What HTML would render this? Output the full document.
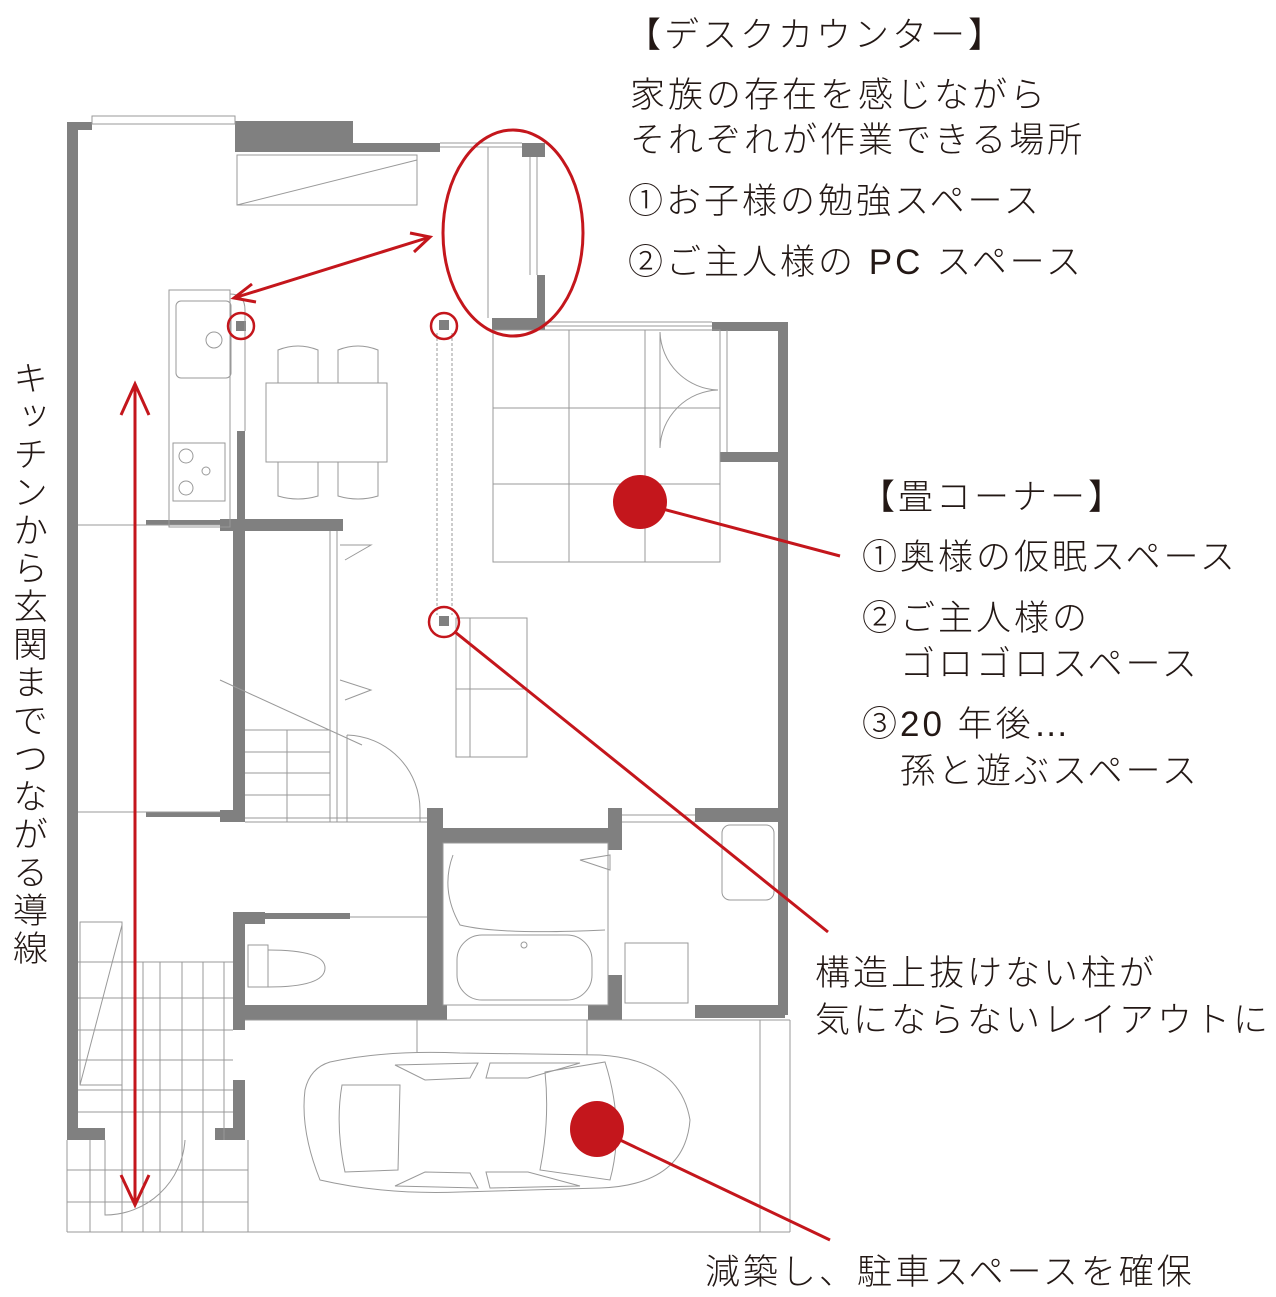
<!DOCTYPE html>
<html><head><meta charset="utf-8"><style>
html,body{margin:0;padding:0;background:#fff}
body{width:1276px;height:1297px;position:relative;overflow:hidden;font-family:"Liberation Sans","Noto Sans CJK JP",sans-serif;color:#231815}
.t{position:absolute;font-size:35px;line-height:1;white-space:nowrap;letter-spacing:3px;font-weight:300}
svg{position:absolute;left:0;top:0}
</style></head><body>
<svg width="1276" height="1297" viewBox="0 0 1276 1297">
<g fill="#808080">
<rect x="67" y="122" width="11" height="1018"/>
<rect x="67" y="122" width="25" height="8"/>
<rect x="235" y="121" width="118" height="31"/>
<rect x="353" y="143" width="87" height="9"/>
<rect x="522" y="143" width="23" height="14"/>
<rect x="537" y="275" width="8" height="55"/>
<rect x="492" y="318" width="53" height="12"/>
<rect x="712" y="322" width="68" height="9"/>
<rect x="778" y="322" width="10" height="693"/>
<rect x="720" y="452" width="60" height="10"/>
<rect x="237" y="431" width="8" height="90"/>
<rect x="220" y="519" width="123" height="12"/>
<rect x="233" y="519" width="12" height="303"/>
<rect x="220" y="810" width="25" height="12"/>
<rect x="427" y="808" width="16" height="212"/>
<rect x="427" y="828" width="193" height="15"/>
<rect x="608" y="808" width="14" height="42"/>
<rect x="608" y="975" width="14" height="45"/>
<rect x="427" y="1005" width="20" height="15"/>
<rect x="588" y="1005" width="34" height="15"/>
<rect x="695" y="808" width="85" height="14"/>
<rect x="695" y="1005" width="90" height="13"/>
<rect x="233" y="912" width="12" height="118"/>
<rect x="233" y="912" width="32" height="12"/>
<rect x="265" y="913" width="85" height="6"/>
<rect x="233" y="1005" width="195" height="15"/>
<rect x="233" y="1080" width="12" height="60"/>
<rect x="67" y="1128" width="38" height="12"/>
<rect x="215" y="1128" width="30" height="12"/>
<rect x="146" y="520" width="74" height="5"/>
<rect x="146" y="812" width="74" height="5"/>
<rect x="236" y="321" width="10" height="10"/>
<rect x="439" y="320" width="10" height="10"/>
<rect x="439" y="616" width="10" height="10"/>
</g>
<g fill="none" stroke="#999" stroke-width="1">
<rect x="92" y="116" width="143" height="8"/>
<rect x="237" y="155" width="180" height="50"/>
<line x1="237" y1="205" x2="417" y2="160"/>
<line x1="440" y1="143" x2="522" y2="143"/><line x1="440" y1="147" x2="522" y2="147"/>
<line x1="530" y1="157" x2="530" y2="275"/><line x1="537" y1="157" x2="537" y2="275"/>
<line x1="488" y1="147" x2="488" y2="318"/>
<line x1="545" y1="322" x2="712" y2="322"/><line x1="545" y1="326" x2="712" y2="326"/>
<rect x="493" y="330" width="227" height="232"/>
<line x1="569" y1="330" x2="569" y2="562"/><line x1="645" y1="330" x2="645" y2="562"/>
<line x1="493" y1="408" x2="720" y2="408"/><line x1="493" y1="484" x2="720" y2="484"/>
<line x1="720" y1="330" x2="720" y2="452"/><line x1="727" y1="330" x2="727" y2="452"/>
<path d="M660 332 A60 60 0 0 0 718 390 M660 448 A60 60 0 0 1 718 390"/>
<line x1="660" y1="332" x2="660" y2="448"/>
<rect x="169" y="290" width="61" height="237"/>
<rect x="176" y="301" width="55" height="77" rx="5"/>
<circle cx="214" cy="340" r="8"/>
<rect x="173" y="443" width="52" height="58"/>
<circle cx="186" cy="456" r="7"/><circle cx="186" cy="488" r="7"/><circle cx="206" cy="471" r="4"/>
<path d="M230 294 Q245 294 245 310 L245 431"/>
<rect x="266" y="383" width="121" height="79"/>
<path d="M278 383 V350 Q298 342 318 350 V383 M338 383 V350 Q358 342 378 350 V383"/>
<path d="M278 462 V496 Q298 502 318 496 V462 M338 462 V496 Q358 502 378 496 V462"/>
<line x1="437" y1="333" x2="437" y2="615" stroke-dasharray="3 2"/><line x1="452" y1="333" x2="452" y2="615" stroke-dasharray="3 2"/>
<rect x="456" y="618" width="71" height="139"/><line x1="456" y1="689" x2="527" y2="689"/><line x1="470" y1="618" x2="470" y2="757"/>
<line x1="78" y1="525" x2="220" y2="525"/><line x1="78" y1="812" x2="220" y2="812"/>
<line x1="330" y1="531" x2="330" y2="822"/><line x1="337" y1="531" x2="337" y2="822"/>
<path d="M340 545 L371 545 L345 560 M340 680 L371 690 L345 700"/>
<line x1="245" y1="730" x2="330" y2="730"/><line x1="245" y1="752" x2="330" y2="752"/><line x1="245" y1="773" x2="330" y2="773"/><line x1="245" y1="795" x2="330" y2="795"/>
<line x1="287" y1="730" x2="287" y2="822"/>
<line x1="220" y1="680" x2="362" y2="745"/>
<path d="M347 735 A75 75 0 0 1 420 810 L420 822 M347 735 L347 822"/>
<line x1="245" y1="822" x2="427" y2="822"/><line x1="245" y1="818" x2="427" y2="818"/>
<line x1="622" y1="815" x2="695" y2="815"/><line x1="622" y1="822" x2="695" y2="822"/>
<rect x="443" y="843" width="165" height="162"/>
<rect x="457" y="935" width="135" height="65" rx="25"/>
<circle cx="524" cy="945" r="3"/>
<path d="M453 855 Q440 890 460 925 Q500 935 605 930"/>
<path d="M580 860 L610 855 L610 870 Z"/>
<rect x="722" y="825" width="52" height="75" rx="8"/>
<rect x="625" y="943" width="63" height="60"/>
<rect x="248" y="945" width="20" height="42"/>
<path d="M268 950 Q325 950 325 968 Q325 987 268 987"/>
<line x1="350" y1="917" x2="427" y2="917"/>
<rect x="80" y="922" width="42" height="163"/><line x1="80" y1="1085" x2="122" y2="925"/>
<line x1="78" y1="962" x2="233" y2="962"/>
<line x1="122" y1="962" x2="122" y2="1232"/><line x1="143" y1="962" x2="143" y2="1232"/><line x1="160" y1="962" x2="160" y2="1232"/>
<line x1="182" y1="962" x2="182" y2="1232"/><line x1="203" y1="962" x2="203" y2="1232"/><line x1="224" y1="962" x2="224" y2="1140"/>
<line x1="78" y1="998" x2="233" y2="998"/><line x1="78" y1="1030" x2="233" y2="1030"/><line x1="78" y1="1060" x2="233" y2="1060"/><line x1="78" y1="1090" x2="233" y2="1090"/><line x1="78" y1="1112" x2="233" y2="1112"/>
<line x1="67" y1="1140" x2="67" y2="1232"/><line x1="90" y1="1140" x2="90" y2="1232"/>
<line x1="67" y1="1170" x2="248" y2="1170"/><line x1="67" y1="1202" x2="248" y2="1202"/>
<path d="M105 1140 L105 1215 A80 80 0 0 0 185 1140"/>
<line x1="67" y1="1232" x2="790" y2="1232"/><line x1="248" y1="1140" x2="248" y2="1232"/>
<line x1="245" y1="1020" x2="790" y2="1020"/><line x1="790" y1="1020" x2="790" y2="1232"/><line x1="760" y1="1020" x2="760" y2="1232"/>
<line x1="417" y1="1020" x2="417" y2="1052"/><line x1="587" y1="1020" x2="587" y2="1055"/>
<path d="M330 1062 Q385 1050 460 1053 L600 1055 Q680 1060 690 1120 Q685 1185 600 1188 L460 1192 Q385 1195 320 1180 Q300 1130 305 1090 Q310 1068 330 1062 Z"/>
<path d="M342 1085 L400 1085 L398 1170 L345 1172 Q335 1125 342 1085 Z"/>
<path d="M545 1072 L605 1062 Q625 1125 610 1180 L540 1170 Q550 1120 545 1072 Z"/>
<path d="M395 1065 L478 1063 L470 1078 L425 1080 Z M490 1063 L580 1063 L528 1078 L486 1078 Z"/>
<path d="M395 1186 L478 1188 L470 1173 L425 1172 Z M490 1188 L580 1186 L528 1172 L486 1172 Z"/>
</g>
<g fill="none" stroke="#c4161c" stroke-width="3">
<ellipse cx="513" cy="233" rx="70" ry="103"/>
<line x1="234" y1="298" x2="430" y2="237"/>
<path d="M252 284 L234 298 L256 302 M410 233 L430 237 L414 252"/>
<line x1="135" y1="384" x2="135" y2="1205"/>
<path d="M121 415 L135 384 L149 415 M121 1175 L135 1205 L149 1175"/>
<circle cx="241" cy="326" r="13" stroke-width="2.5"/>
<circle cx="444" cy="326" r="13" stroke-width="2.5"/>
<circle cx="444" cy="622" r="15" stroke-width="2.5"/>
<line x1="640" y1="503" x2="840" y2="556"/>
<line x1="455" y1="632" x2="828" y2="932"/>
<line x1="597" y1="1129" x2="830" y2="1240"/>
</g>
<g fill="#c4161c">
<circle cx="640" cy="502" r="27"/>
<ellipse cx="597" cy="1129" rx="27" ry="28"/>
</g>
</svg>
<div class="t" style="left:626px;top:18px">【デスクカウンター】</div>
<div class="t" style="left:630px;top:78px">家族の存在を感じながら</div>
<div class="t" style="left:630px;top:123px">それぞれが作業できる場所</div>
<div class="t" style="left:628px;top:184px">①お子様の勉強スペース</div>
<div class="t" style="left:628px;top:245px">②ご主人様の PC スペース</div>
<div class="t" style="left:860px;top:480px">【畳コーナー】</div>
<div class="t" style="left:862px;top:540px">①奥様の仮眠スペース</div>
<div class="t" style="left:862px;top:601px">②ご主人様の</div>
<div class="t" style="left:900px;top:647px">ゴロゴロスペース</div>
<div class="t" style="left:862px;top:707px">③20 年後…</div>
<div class="t" style="left:900px;top:754px">孫と遊ぶスペース</div>
<div class="t" style="left:815px;top:956px">構造上抜けない柱が</div>
<div class="t" style="left:815px;top:1003px">気にならないレイアウトに</div>
<div class="t" style="left:705px;top:1255px">減築し、駐車スペースを確保</div>
<div class="t" style="left:10px;top:360px;writing-mode:vertical-rl;letter-spacing:3px">キッチンから玄関までつながる導線</div>
</body></html>
